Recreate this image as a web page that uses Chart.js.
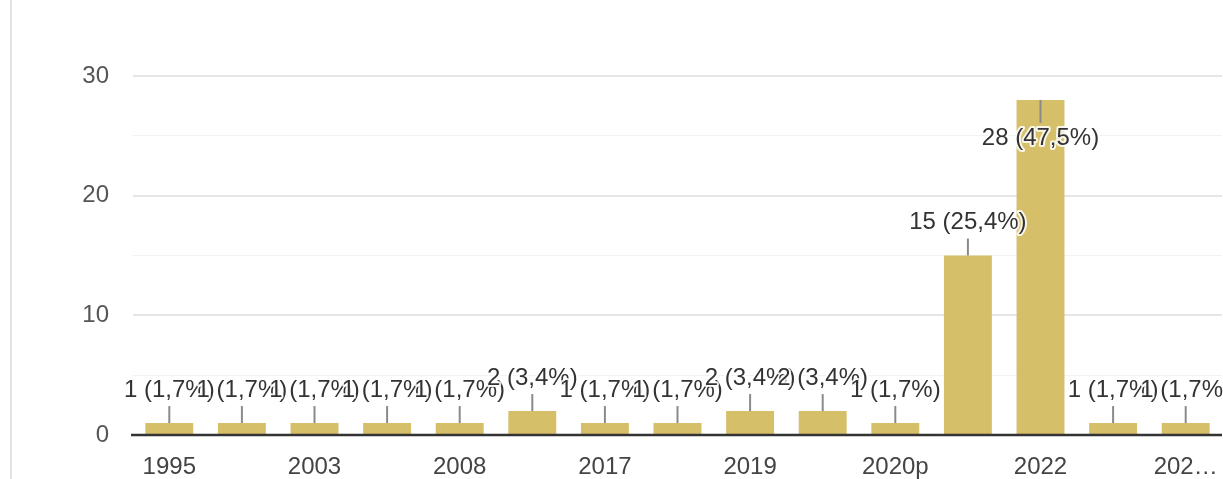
<!DOCTYPE html>
<html>
<head>
<meta charset="utf-8">
<script src="https://cdn.jsdelivr.net/npm/chart.js@4.4.1/dist/chart.umd.min.js"></script>
<style>
  html, body { margin: 0; padding: 0; background: #ffffff; }
  #wrap { position: relative; width: 1223px; height: 479px; }
  #card { position: absolute; left: 10px; top: 0; width: 2px; height: 479px; background: #e3e3e3; }
  canvas { position: absolute; left: 0; top: 0; }
</style>
</head>
<body>
<div id="wrap">
  <div id="card"></div>
  <canvas id="c" width="1223" height="479"></canvas>
</div>
<script>
// ---- data ----
const categories = ['1995', '2000', '2003', '2005', '2008', '2010', '2017', '2018', '2019', '2020', '2020p', '2021', '2022', '2023', '2023p'];
const tickLabels = ['1995', '', '2003', '', '2008', '', '2017', '', '2019', '', '2020p', '', '2022', '', '202\u2026'];
const counts = [1, 1, 1, 1, 1, 2, 1, 1, 2, 2, 1, 15, 28, 1, 1];
const percentLabels = ['1,7%', '1,7%', '1,7%', '1,7%', '1,7%', '3,4%', '1,7%', '1,7%', '3,4%', '3,4%', '1,7%', '25,4%', '47,5%', '1,7%', '1,7%'];
const yTicks = [0, 10, 20, 30];

const FONT = 'Arial, "Liberation Sans", sans-serif';

const annotPlugin = {
  id: 'annot',
  afterDatasetsDraw(chart) {
    const ctx = chart.ctx;
    const meta = chart.getDatasetMeta(0);
    const area = chart.chartArea;
    const maxV = Math.max(...counts);
    // baseline
    const y0 = chart.scales.y.getPixelForValue(0);
    ctx.save();
    ctx.strokeStyle = '#333333';
    ctx.lineWidth = 2.5;
    ctx.beginPath();
    ctx.moveTo(area.left - 2, y0);
    ctx.lineTo(area.right, y0);
    ctx.stroke();

    const items = meta.data.map((bar, i) => {
      const top = bar.y;
      const inside = counts[i] === maxV && (top - area.top) < 40;
      return { x: bar.x, top, inside, text: counts[i] + ' (' + percentLabels[i] + ')' };
    });
    // leader lines
    ctx.strokeStyle = '#8a8a8a';
    ctx.lineWidth = 2;
    items.forEach(it => {
      ctx.beginPath();
      if (it.inside) { ctx.moveTo(it.x, it.top); ctx.lineTo(it.x, it.top + 23); }
      else { ctx.moveTo(it.x, it.top); ctx.lineTo(it.x, it.top - 17); }
      ctx.stroke();
    });
    // texts
    ctx.font = '24px ' + FONT;
    ctx.textAlign = 'center';
    ctx.textBaseline = 'middle';
    ctx.lineJoin = 'round';
    items.forEach(it => {
      const ty = it.inside ? it.top + 38 : it.top - 33;
      ctx.strokeStyle = 'rgba(255,255,255,0.85)';
      ctx.lineWidth = 4;
      ctx.strokeText(it.text, it.x, ty);
      ctx.fillStyle = '#333333';
      ctx.fillText(it.text, it.x, ty);
    });
    ctx.restore();
  }
};

new Chart(document.getElementById('c'), {
  type: 'bar',
  data: {
    labels: categories,
    datasets: [{
      data: counts,
      backgroundColor: '#d6bf69',
      borderWidth: 0,
      categoryPercentage: 1.0,
      barPercentage: 0.66
    }]
  },
  options: {
    responsive: false,
    animation: false,
    events: [],
    layout: { padding: { top: 76, right: 1, bottom: 0, left: 0 } },
    plugins: { legend: { display: false }, tooltip: { enabled: false } },
    scales: {
      x: {
        grid: { display: false },
        border: { display: false },
        ticks: {
          autoSkip: false,
          maxRotation: 0,
          padding: 10,
          color: '#444444',
          font: { family: FONT, size: 24 },
          callback: (v, i) => tickLabels[i]
        },
        afterFit: s => { s.height = 44; s.paddingLeft = 0; s.paddingRight = 0; }
      },
      y: {
        min: 0,
        max: 30,
        border: { display: false },
        grid: {
          drawTicks: false,
          color: c => c.tick.value === 0 ? 'rgba(0,0,0,0)' : (yTicks.includes(c.tick.value) ? '#e6e6e6' : '#f2f2f2'),
          lineWidth: c => yTicks.includes(c.tick.value) ? 2 : 1
        },
        ticks: {
          stepSize: 5,
          padding: 24,
          color: '#555555',
          font: { family: FONT, size: 24 },
          callback: v => yTicks.includes(v) ? String(v) : ''
        },
        afterFit: s => { s.width = 133; }
      }
    }
  },
  plugins: [annotPlugin]
});
</script>
</body>
</html>
